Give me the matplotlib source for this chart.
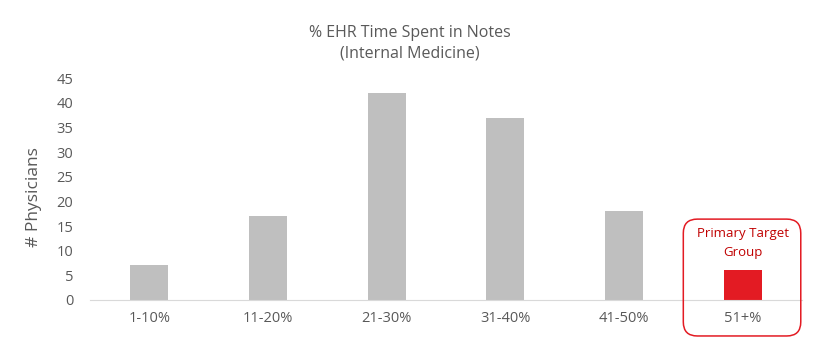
import matplotlib.pyplot as plt
from matplotlib.patches import FancyBboxPatch
from matplotlib.transforms import IdentityTransform

categories = ['1-10%', '11-20%', '21-30%', '31-40%', '41-50%', '51+%']
physicians = [7, 17, 42, 37, 18, 6]
bar_colors = ['#BFBFBF'] * 5 + ['#E31B23']

plt.rcParams['font.family'] = ['Open Sans', 'DejaVu Sans']
text_color = '#595959'

fig = plt.figure(figsize=(8.2, 3.55), dpi=100)
ax = fig.add_axes([0.1098, 0.155, 0.8682, 0.625])

x = range(len(categories))
ax.bar(x, physicians, width=0.32, color=bar_colors)
ax.set_xlim(-0.5, len(categories) - 0.5)
ax.set_ylim(0, 45)
ax.set_yticks(range(0, 46, 5))
ax.set_xticks(list(x))
ax.set_xticklabels(categories)
ax.tick_params(length=0, colors=text_color, labelsize=10.5)
ax.tick_params(axis='x', pad=8)
ax.tick_params(axis='y', pad=12)
for s in ['top', 'right', 'left']:
    ax.spines[s].set_visible(False)
ax.spines['bottom'].set_color('#D9D9D9')

ax.set_ylabel('# Physicians', fontsize=12.5, color=text_color)
ax.yaxis.set_label_coords(-0.068, 0.462)
fig.suptitle('% EHR Time Spent in Notes\n(Internal Medicine)', y=0.93,
             fontsize=11.5, color=text_color, linespacing=1.35)

# highlight box around the last category
(x0, y0) = ax.transData.transform((4.5, -7.3))
(x1, y1) = ax.transData.transform((5.49, 16.4))
box = FancyBboxPatch((x0 + 14, y0 + 14), (x1 - x0) - 28, (y1 - y0) - 28,
                     boxstyle='round,pad=14', transform=IdentityTransform(),
                     fill=False, edgecolor='#E31B23', linewidth=1.1)
fig.patches.append(box)
ax.text(5, 11.6, 'Primary Target\nGroup', ha='center', va='center',
        fontsize=9.5, color='#C00000', linespacing=1.55)

fig.savefig('out.png', dpi=100)
